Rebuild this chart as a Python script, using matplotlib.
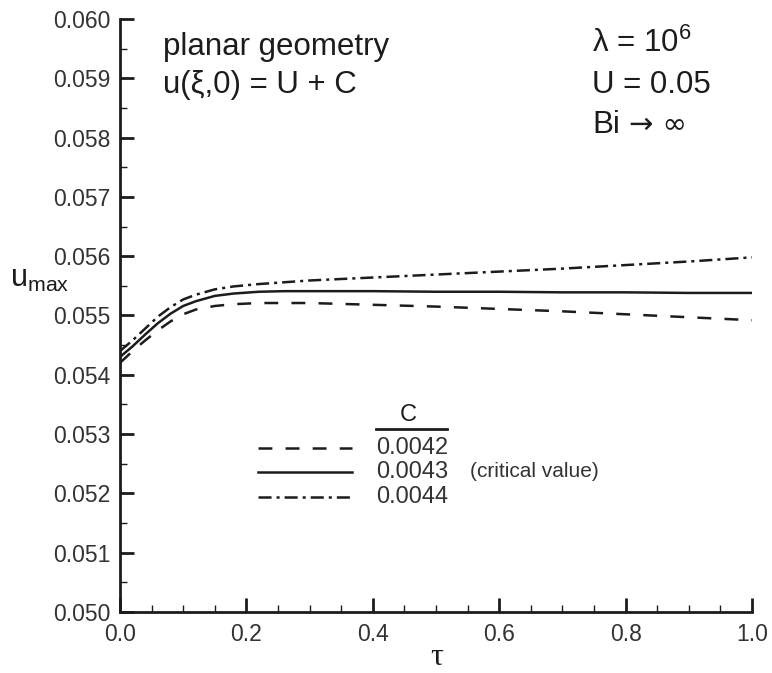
"""u_max(tau) for the planar geometry, initial condition u(xi,0) = U + C."""
import matplotlib
matplotlib.use("Agg")
import matplotlib.pyplot as plt
from matplotlib.ticker import MultipleLocator, FormatStrFormatter

plt.rcParams.update({
    "font.family": ["Liberation Sans", "DejaVu Sans"],
    "mathtext.fontset": "custom",
    "mathtext.rm": "Liberation Sans",
    "mathtext.it": "Liberation Sans",
    "lines.scale_dashes": False,
})

INK = "#1c1c1c"

# time samples and u_max for the three perturbation amounts C
tau = [0.0, 0.02, 0.04, 0.06, 0.08, 0.10, 0.12, 0.15, 0.18, 0.22, 0.26,
       0.30, 0.40, 0.50, 0.60, 0.70, 0.80, 0.90, 1.0]
u_c42 = [0.05420, 0.05440, 0.05458, 0.05475, 0.05490, 0.05502, 0.05510,
         0.05516, 0.05519, 0.05521, 0.05521, 0.05521, 0.05518, 0.05515,
         0.05511, 0.05507, 0.05502, 0.05497, 0.05492]
u_c43 = [0.05430, 0.05448, 0.05468, 0.05487, 0.05503, 0.05516, 0.05524,
         0.05533, 0.05537, 0.05540, 0.05541, 0.05541, 0.05541, 0.05540,
         0.05540, 0.05539, 0.05539, 0.05538, 0.05538]
u_c44 = [0.05440, 0.05458, 0.05478, 0.05498, 0.05514, 0.05527, 0.05535,
         0.05544, 0.05549, 0.05553, 0.05556, 0.05559, 0.05564, 0.05569,
         0.05574, 0.05579, 0.05585, 0.05591, 0.05598]

c_labels = ["0.0042", "0.0043", "0.0044"]

DASHED = (0, (10, 9.5))
SOLID = "-"
DASHDOT = (0, (9.4, 3.6, 2.2, 3.6))
styles = [DASHED, SOLID, DASHDOT]

fig = plt.figure(figsize=(7.72, 6.73), dpi=100)
ax = fig.add_axes([0.1554, 0.0907, 0.8187, 0.8811])

for u, ls in zip([u_c42, u_c43, u_c44], styles):
    ax.plot(tau, u, color=INK, lw=1.8, ls=ls)

ax.set_xlim(0.0, 1.0)
ax.set_ylim(0.050, 0.060)
ax.xaxis.set_major_locator(MultipleLocator(0.2))
ax.xaxis.set_minor_locator(MultipleLocator(0.05))
ax.yaxis.set_major_locator(MultipleLocator(0.001))
ax.yaxis.set_minor_locator(MultipleLocator(0.0005))
ax.xaxis.set_major_formatter(FormatStrFormatter("%.1f"))
ax.yaxis.set_major_formatter(FormatStrFormatter("%.3f"))

for side in ("top", "right"):
    ax.spines[side].set_visible(False)
for side in ("left", "bottom"):
    ax.spines[side].set_linewidth(2.0)
    ax.spines[side].set_color(INK)

ax.tick_params(which="major", direction="in", length=10, width=2.0,
               color=INK, labelsize=16.5, labelcolor="#333333", pad=7)
ax.tick_params(which="minor", direction="in", length=5, width=1.0, color=INK)
ax.tick_params(axis="x", which="major", pad=8)

# axis titles
ax.text(-0.174, 0.5615, r"u$_{\mathrm{max}}$", transform=ax.transAxes,
        fontsize=22, color=INK, ha="left", va="center")
ax.text(0.5016, -0.076, "τ", transform=ax.transAxes, fontsize=23,
        family=["Liberation Serif", "DejaVu Serif"], color=INK,
        ha="center", va="center")

# case description
ax.text(0.068, 0.939, "planar geometry", transform=ax.transAxes,
        fontsize=22.5, color=INK, va="baseline")
ax.text(0.068, 0.875, "u(ξ,0) = U + C", transform=ax.transAxes,
        fontsize=22.5, color=INK, va="baseline")
ax.text(0.747, 0.944, r"λ = 10$^{6}$", transform=ax.transAxes,
        fontsize=22.5, color=INK, va="baseline")
ax.text(0.747, 0.875, "U = 0.05", transform=ax.transAxes,
        fontsize=22.5, color=INK, va="baseline")
ax.text(0.747, 0.808, "Bi", transform=ax.transAxes,
        fontsize=22.5, color=INK, va="baseline")
ax.text(0.806, 0.808, "→ ∞", transform=ax.transAxes, family="DejaVu Sans",
        fontsize=21, color=INK, va="baseline")

# hand-built key
key_y = [0.2766, 0.2361, 0.1939]
ax.text(0.456, 0.332, "C", transform=ax.transAxes, fontsize=17,
        color=INK, ha="center", va="center")
ax.plot([0.405, 0.517], [0.3086, 0.3086], transform=ax.transAxes,
        color=INK, lw=2.0, clip_on=False)
for y, ls, lab in zip(key_y, styles, c_labels):
    ax.plot([0.2184, 0.367], [y, y], transform=ax.transAxes, color=INK,
            lw=1.8, ls=ls, clip_on=False)
    ax.text(0.405, y, lab, transform=ax.transAxes, fontsize=17,
            color="#333333", va="center")
ax.text(0.554, key_y[1], "(critical value)", transform=ax.transAxes,
        fontsize=15, color="#333333", va="center")

fig.savefig("out.png", dpi=100)
